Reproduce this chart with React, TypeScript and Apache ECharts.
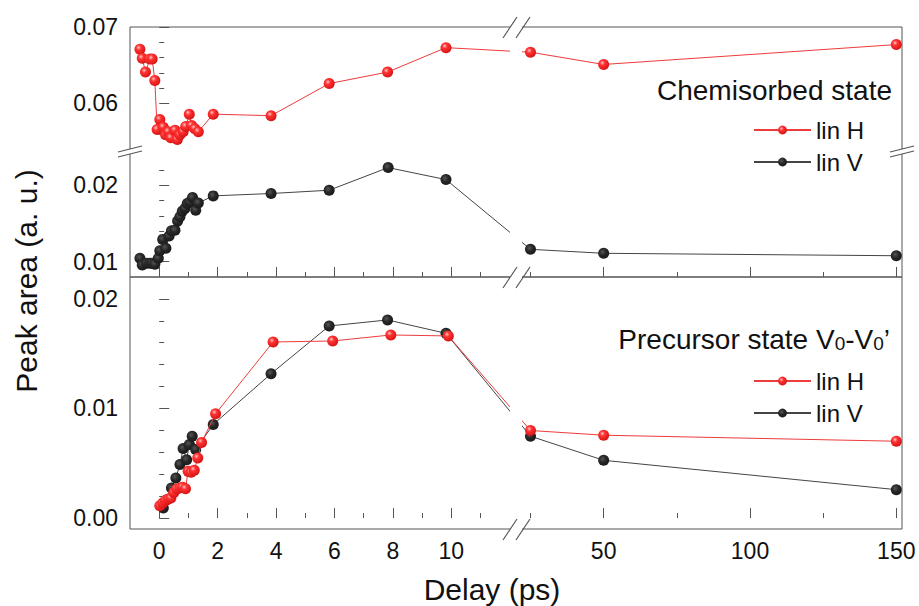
import React, { useEffect, useRef } from 'react';
import * as echarts from 'echarts';

// ---------- data (delay in ps, peak area in a.u.) ----------
const chemHX = [-0.66, -0.58, -0.47, -0.32, -0.24, -0.15, -0.07, 0.02, 0.14, 0.22, 0.31, 0.40, 0.54, 0.62, 0.71, 0.82, 0.91, 1.03, 1.11, 1.22, 1.34, 1.85, 3.83, 5.82, 7.82, 9.82, 25, 50, 150];
const chemHY = [0.0671, 0.0659, 0.0641, 0.0658, 0.0658, 0.0630, 0.0566, 0.0579, 0.0569, 0.0559, 0.0563, 0.0555, 0.0565, 0.0553, 0.0559, 0.0563, 0.0570, 0.0586, 0.0571, 0.0567, 0.0563, 0.0586, 0.0584, 0.0626, 0.0641, 0.0673, 0.0667, 0.0651, 0.0677];

const chemVX = [-0.66, -0.58, -0.43, -0.32, -0.24, -0.15, -0.03, 0.02, 0.12, 0.23, 0.34, 0.42, 0.54, 0.63, 0.71, 0.79, 0.88, 0.96, 1.05, 1.14, 1.25, 1.34, 1.85, 3.83, 5.82, 7.84, 9.82, 25, 50, 150];
const chemVY = [0.01044, 0.00957, 0.0098, 0.0098, 0.0098, 0.00966, 0.01044, 0.01143, 0.01292, 0.01175, 0.01335, 0.01404, 0.01413, 0.01531, 0.01587, 0.01661, 0.01696, 0.01761, 0.01782, 0.0184, 0.01674, 0.01769, 0.01861, 0.01892, 0.01935, 0.02231, 0.02074, 0.01162, 0.0111, 0.01078];

const precHX = [0.02, 0.12, 0.21, 0.31, 0.40, 0.50, 0.60, 0.71, 0.80, 0.90, 0.99, 1.09, 1.20, 1.32, 1.45, 1.93, 3.90, 5.94, 7.93, 9.90, 25, 50, 150];
const precHY = [0.00113, 0.00137, 0.00161, 0.00174, 0.00183, 0.00234, 0.00265, 0.00274, 0.0028, 0.00268, 0.00426, 0.00417, 0.00436, 0.00549, 0.0069, 0.00952, 0.01607, 0.01616, 0.01671, 0.01662, 0.00799, 0.00756, 0.00701];

const precVX = [0.14, 0.26, 0.42, 0.57, 0.71, 0.82, 0.94, 1.03, 1.13, 1.25, 1.85, 3.83, 5.82, 7.82, 9.82, 25, 50, 150];
const precVY = [0.00091, 0.00167, 0.00274, 0.00366, 0.00488, 0.00634, 0.00533, 0.00671, 0.00747, 0.00625, 0.00854, 0.01317, 0.01753, 0.01808, 0.01686, 0.00747, 0.00527, 0.00259];

const xMajorTicks = [0, 2, 4, 6, 8, 10, 50, 100, 150];
const xMinorTicks = [1, 3, 5, 7, 9, 11, 25, 75, 125];
const topYMajor = [0.01, 0.02, 0.06, 0.07];
const topYMinor = [0.012, 0.014, 0.016, 0.018, 0.022, 0.056, 0.058, 0.062, 0.064, 0.066, 0.068];
const botYMajor = [0, 0.01, 0.02];
const botYMinor = [0.002, 0.004, 0.006, 0.008, 0.012, 0.014, 0.016, 0.018];

const seriesNames = ['lin H', 'lin V'];

// ---------- broken-axis transforms ----------
const X_BREAK = 12.3;
const RIGHT_OFFSET = 15.219;
const RIGHT_SCALE = 0.10021;
const ux = (x: number) => (x <= X_BREAK ? x : RIGHT_OFFSET + (x - 50) * RIGHT_SCALE);
const xBack = (u: number) => (u <= X_BREAK + 0.01 ? u : 50 + (u - RIGHT_OFFSET) / RIGHT_SCALE);
const Y_SHIFT = 0.0293;
const vy = (y: number) => (y > 0.03 ? y - Y_SHIFT : y);
const yBack = (v: number) => (v > 0.0245 ? v + Y_SHIFT : v);

const FONT = 'Arial, "Liberation Sans", Helvetica, sans-serif';
const AXIS_COLOR = '#555';
const RED_LINE = '#ee3b3b';
const BLACK_LINE = '#444';

const redBall = {
  type: 'radial', x: 0.38, y: 0.35, r: 0.65,
  colorStops: [
    { offset: 0, color: '#ffc4c4' },
    { offset: 0.35, color: '#ff3333' },
    { offset: 1, color: '#d81414' },
  ],
};
const blackBall = {
  type: 'radial', x: 0.4, y: 0.38, r: 0.65,
  colorStops: [
    { offset: 0, color: '#555' },
    { offset: 0.5, color: '#262626' },
    { offset: 1, color: '#1a1a1a' },
  ],
};

function xAxes(gridIndex: number, showLabel: boolean) {
  const base = {
    type: 'value', gridIndex, min: -1, max: 25.435, position: 'bottom',
    axisLine: { show: false }, splitLine: { show: false },
  };
  return [
    {
      ...base,
      axisTick: { show: true, inside: true, length: 10, lineStyle: { color: AXIS_COLOR }, customValues: xMajorTicks.map(ux) },
      axisLabel: {
        show: showLabel, customValues: xMajorTicks.map(ux),
        formatter: (v: number) => String(Math.round(xBack(v))),
        fontSize: 23, color: '#111', margin: 10, fontFamily: FONT,
      },
    },
    {
      ...base,
      axisTick: { show: true, inside: true, length: 5, lineStyle: { color: AXIS_COLOR }, customValues: xMinorTicks.map(ux) },
      axisLabel: { show: false },
    },
  ];
}

function yAxes(gridIndex: number, min: number, max: number, major: number[], minor: number[], map: (y: number) => number, back: (v: number) => number) {
  const base = {
    type: 'value', gridIndex, min, max, position: 'left',
    axisLine: { show: false }, splitLine: { show: false },
  };
  return [
    {
      ...base,
      axisTick: { show: true, inside: true, length: 10, lineStyle: { color: AXIS_COLOR }, customValues: major.map(map) },
      axisLabel: {
        show: true, customValues: major.map(map),
        formatter: (v: number) => back(v).toFixed(2),
        fontSize: 23, color: '#111', margin: 12, fontFamily: FONT,
      },
    },
    {
      ...base,
      axisTick: { show: true, inside: true, length: 5, lineStyle: { color: AXIS_COLOR }, customValues: minor.map(map) },
      axisLabel: { show: false },
    },
  ];
}

function makeSeries(name: string, xs: number[], ys: number[], axisBase: number, mapY: (y: number) => number, red: boolean) {
  return {
    type: 'line', name,
    xAxisIndex: axisBase, yAxisIndex: axisBase,
    data: xs.map((x, i) => [ux(x), mapY(ys[i])]),
    symbol: 'circle', symbolSize: 11,
    lineStyle: { color: red ? RED_LINE : BLACK_LINE, width: 1 },
    itemStyle: { color: red ? redBall : blackBall },
    z: red ? 4 : 3,
  };
}

function slash(x1: number, y1: number, x2: number, y2: number) {
  return { type: 'line', z: 101, shape: { x1, y1, x2, y2 }, style: { stroke: AXIS_COLOR, lineWidth: 1.2 } };
}

function xBreak(y: number) {
  return [
    slash(503, y + 11, 517, y - 10),
    slash(516, y + 11, 530, y - 10),
  ];
}

function yBreak(x: number) {
  return [
    { type: 'polygon', z: 100, shape: { points: [[x - 12, 152], [x + 12, 146], [x + 12, 151], [x - 12, 157]] }, style: { fill: '#fff' } },
    slash(x - 12, 157, x + 12, 151),
    slash(x - 12, 152, x + 12, 146),
  ];
}

export default function App() {
  const ref = useRef<HTMLDivElement>(null);
  useEffect(() => {
    if (!ref.current) return;
    const chart = echarts.init(ref.current, null, { renderer: 'svg' });
    const legendBase = {
      orient: 'vertical', left: 753, itemWidth: 57, itemHeight: 11, itemGap: 8, padding: 0,
      selectedMode: false, textStyle: { fontSize: 24, color: '#111', fontFamily: FONT },
      data: seriesNames,
    };
    chart.setOption({
      animation: false,
      backgroundColor: '#fff',
      grid: [
        { left: 130, right: 17, top: 27, height: 250, show: true, borderColor: AXIS_COLOR, borderWidth: 1, backgroundColor: 'transparent' },
        { left: 130, right: 17, top: 277, height: 252, show: true, borderColor: AXIS_COLOR, borderWidth: 1, backgroundColor: 'transparent' },
      ],
      xAxis: [...xAxes(0, false), ...xAxes(1, true)],
      yAxis: [
        ...yAxes(0, 0.008, vy(0.07), topYMajor, topYMinor, vy, yBack),
        ...yAxes(1, -0.001, 0.022, botYMajor, botYMinor, (y) => y, (v) => v),
      ],
      legend: [
        { ...legendBase, top: 118 },
        { ...legendBase, top: 369 },
      ],
      series: [
        makeSeries(seriesNames[1], chemVX, chemVY, 0, vy, false),
        makeSeries(seriesNames[0], chemHX, chemHY, 0, vy, true),
        makeSeries(seriesNames[1], precVX, precVY, 2, (y) => y, false),
        makeSeries(seriesNames[0], precHX, precHY, 2, (y) => y, true),
      ],
      graphic: [
        { type: 'text', z: 102, x: 26, y: 281, rotation: Math.PI / 2, style: { text: 'Peak area (a. u.)', fontSize: 30, fontFamily: FONT, fill: '#111', align: 'center', verticalAlign: 'middle' } },
        { type: 'text', z: 102, x: 492, y: 589, style: { text: 'Delay (ps)', fontSize: 30, fontFamily: FONT, fill: '#111', align: 'center', verticalAlign: 'middle' } },
        { type: 'text', z: 102, x: 892, y: 90, style: { text: 'Chemisorbed state', fontSize: 28, fontFamily: FONT, fill: '#111', align: 'right', verticalAlign: 'middle' } },
        {
          type: 'text', z: 102, x: 890, y: 338,
          style: {
            text: '{a|Precursor state V}{b|0}{a|-V}{b|0}{a|\u2019}',
            align: 'right', verticalAlign: 'middle', fill: '#111',
            rich: {
              a: { fontSize: 28, fontFamily: FONT, fill: '#111', verticalAlign: 'bottom', lineHeight: 30 },
              b: { fontSize: 19, fontFamily: FONT, fill: '#111', verticalAlign: 'bottom', lineHeight: 22 },
            },
          },
        },
        // gap through the frame and the data lines at the x-axis break
        { type: 'rect', z: 100, shape: { x: 510, y: 16, width: 12, height: 524 }, style: { fill: '#fff' } },
        ...xBreak(27), ...xBreak(277), ...xBreak(529),
        ...yBreak(130), ...yBreak(902),
      ],
    });
    return () => chart.dispose();
  }, []);
  return <div ref={ref} style={{ position: 'fixed', left: 0, top: 0, width: 919, height: 606 }} />;
}
